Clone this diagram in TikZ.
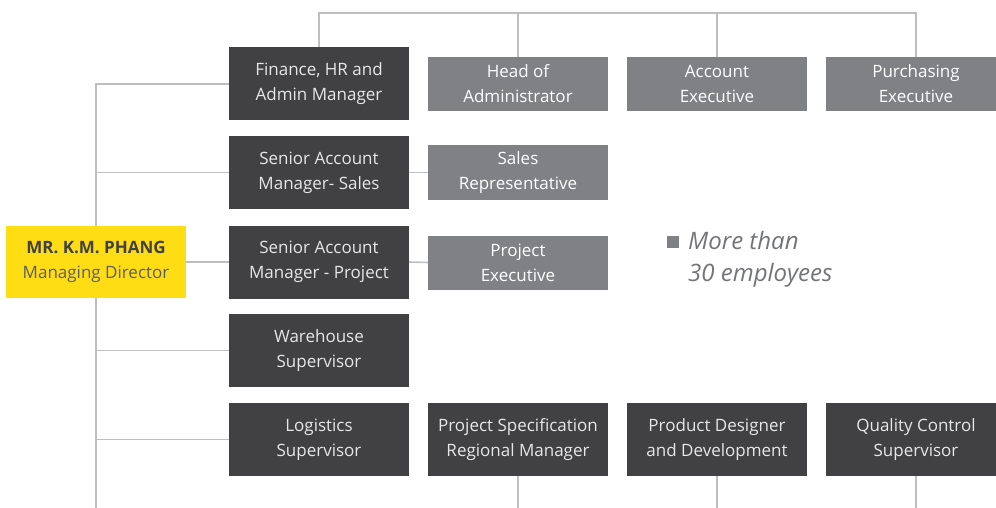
\documentclass[tikz,border=0pt]{standalone}
\usepackage{fontspec}
\setmainfont{Open Sans}
\usepackage{tikz}
\usetikzlibrary{positioning}

\definecolor{boxdark}{HTML}{414042}
\definecolor{boxgray}{HTML}{808184}
\definecolor{mdyellow}{HTML}{FFDD15}
\definecolor{linegray}{HTML}{BCBEC0}
\definecolor{txtlight}{HTML}{E6E7E8}

\begin{document}
\begin{tikzpicture}[x=1pt,y=-1pt,
	every node/.style={font=\fontsize{17}{25}\selectfont, align=center, inner sep=0pt},
	darkbox/.style={fill=boxdark, text=txtlight, minimum width=180pt, minimum height=73pt},
	graybox/.style={fill=boxgray, text=white, minimum width=180pt, minimum height=54pt},
	mdbox/.style={fill=mdyellow, text=boxdark, minimum width=180pt, minimum height=72pt},
	link/.style={draw=linegray, line width=1.6pt}]
	\clip (0,0) rectangle (996,508);
	%\draw[help lines,step=50] (0,0) grid (996,508);
	\coordinate (top) at (0,13);
	\coordinate (bottom) at (0,510);

	\node[mdbox] (md) at (96,262) {\textbf{MR. K.M. PHANG}\\\color{boxdark!85}Managing Director};

	\node[darkbox] (fin) at (319,84) {Finance, HR and\\Admin Manager};
	\node[darkbox] (sams) at (319,172.5) {Senior Account\\Manager- Sales};
	\node[darkbox] (samp) at (319,262) {Senior Account\\Manager - Project};
	\node[darkbox] (wh) at (319,350.5) {Warehouse\\Supervisor};
	\node[darkbox] (log) at (319,439.5) {Logistics\\Supervisor};

	\node[graybox] (hoa) at (518,84) {Head of\\Administrator};
	\node[graybox] (acc) at (717,84) {Account\\Executive};
	\node[graybox] (pur) at (916,84) {Purchasing\\Executive};
	\node[graybox] (srep) at (518,172.5) {Sales\\Representative};
	\node[graybox] (pex) at (518,262.5) {Project\\Executive};

	\node[darkbox] (psrm) at (518,439.5) {Project Specification\\Regional Manager};
	\node[darkbox] (pdd) at (717,439.5) {Product Designer\\and Development};
	\node[darkbox] (qcs) at (916,439.5) {Quality Control\\Supervisor};

	\node[fill=boxgray, minimum size=12pt] (bullet) at (673,241.5) {};
	\node[anchor=north west, align=left, text=boxgray!90!black, font=\fontsize{24}{32}\selectfont\itshape] (legend) at (688,231) {More than\\30 employees};

	% top bar
	\draw[link] (fin.north) -- (fin.north |- top) -| (pur.north);
	\draw[link] (hoa.north) -- (hoa.north |- top);
	\draw[link] (acc.north) -- (acc.north |- top);

	% trunk
	\draw[link] (md.north) -- (md.north |- fin.west) -- (fin.west);
	\draw[link] (md.north |- sams.west) -- (sams.west);
	\draw[link] (md.south) -- (md.south |- bottom);
	\draw[link] (md.south |- wh.west) -- (wh.west);
	\draw[link] (md.south |- log.west) -- (log.west);
	\draw[link] (md.east) -- (samp.west);

	\draw[link] (sams.east) -- (srep.west);
	\draw[link] (samp.east) -- (pex.west);

	\draw[link] (psrm.south) -- (psrm.south |- bottom);
	\draw[link] (pdd.south) -- (pdd.south |- bottom);
	\draw[link] (qcs.south) -- (qcs.south |- bottom);
\end{tikzpicture}
\end{document}
